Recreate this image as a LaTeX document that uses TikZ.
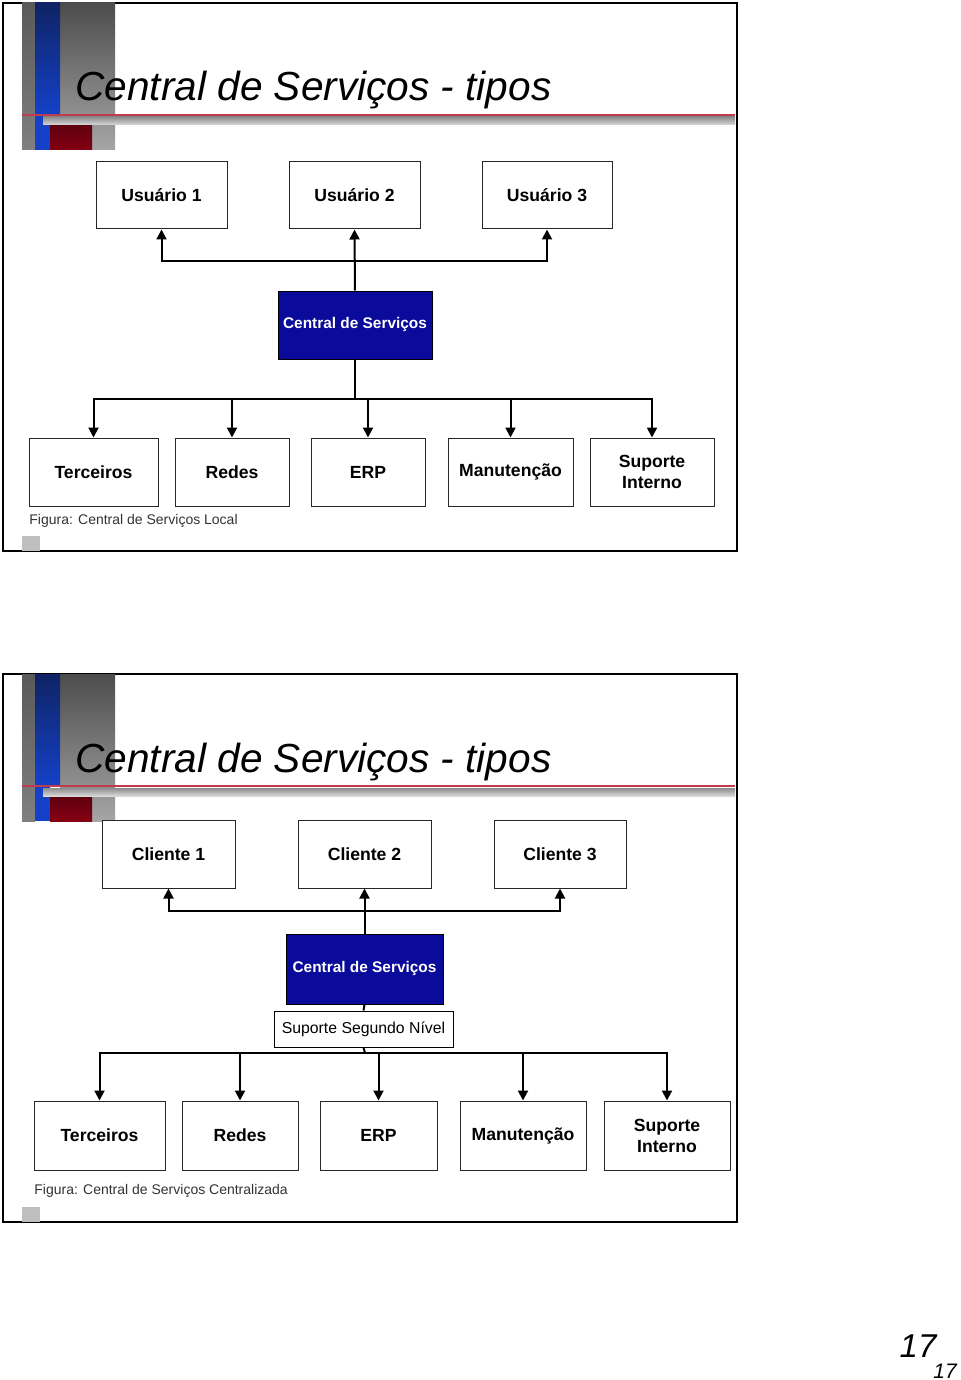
\documentclass[tikz,border=0pt]{standalone}
\usepackage{fontspec}
\setmainfont{Liberation Sans}
\usetikzlibrary{arrows.meta}
\definecolor{csblue}{RGB}{10,10,155}
\definecolor{lineRed}{RGB}{190,60,80}
\definecolor{darkRed}{RGB}{120,0,20}
\definecolor{stripBlue}{RGB}{20,65,200}
\definecolor{navyBlue}{RGB}{15,35,100}

\begin{document}
\begin{tikzpicture}[x=0.5pt,y=-0.5pt,
    box/.style={draw=black!85, line width=0.5pt, fill=white, inner sep=0pt, align=center,
      font=\fontsize{8.8}{10.5}\selectfont\bfseries},
    csbox/.style={draw=black, line width=0.5pt, fill=csblue, text=white, inner sep=0pt,
      font=\fontsize{7.7}{9}\selectfont\bfseries},
    ssnbox/.style={draw=black, line width=0.5pt, fill=white, inner sep=0pt,
      font=\fontsize{7.9}{9}\selectfont},
    conn/.style={line width=1pt, -{Triangle[width=5pt,length=5pt]}},
    link/.style={line width=1pt},
    titletext/.style={anchor=base west, inner sep=0pt, font=\fontsize{20.3}{24}\selectfont\itshape},
    captext/.style={anchor=west, inner sep=0pt, text=black!80, font=\fontsize{7}{8}\selectfont},
    pagenum/.style={inner sep=0pt, font=\itshape}]
    \useasboundingbox (0,0) rectangle (960,1380);

    % slide frames and header bars
    \foreach \dy in {0,671} {
      \begin{scope}[shift={(0,\dy)}]
        \draw[line width=1pt, fill=white] (3,3) rectangle (737,551);
        \shade[top color=black!70, bottom color=black!35] (60,3) rectangle (115,150);
        \shade[top color=black!65, bottom color=black!50] (22,3) rectangle (35,150);
        \shade[top color=navyBlue, bottom color=stripBlue] (35,3) rectangle (60,115);
        \fill[stripBlue] (35,115) rectangle (50,150);
        \shade[top color=black!45, bottom color=black!15] (43,117) rectangle (735,125);
        \draw[lineRed, line width=1pt] (22,115) -- (735,115);
        \shade[top color=darkRed!80!black, bottom color=darkRed!90!red] (50,126) rectangle (92,150);
        \fill[black!25] (22,536) rectangle (40,551);
      \end{scope}
    }

    % slide 1
    \node[titletext] (t1) at (75,101) {Central de Serviços - tipos};
    \node[box, minimum width=65.5pt, minimum height=33.5pt] (u1) at (161.5,195.5) {Usuário 1};
    \node[box, minimum width=65.5pt, minimum height=33.5pt] (u2) at (354.5,195.5) {Usuário 2};
    \node[box, minimum width=65pt, minimum height=33.5pt] (u3) at (547,195.5) {Usuário 3};
    \node[csbox, minimum width=77pt, minimum height=34pt] (cs1) at (355,325) {Central de Serviços};
    \node[box, minimum width=64.5pt, minimum height=34pt] (ter1) at (93.5,472) {Terceiros};
    \node[box, minimum width=57pt, minimum height=34pt] (red1) at (232,472) {Redes};
    \node[box, minimum width=57pt, minimum height=34pt] (erp1) at (368,472) {ERP};
    \node[box, minimum width=62.5pt, minimum height=34pt] (man1) at (510.5,472) {Manutenção};
    \node[box, minimum width=62pt, minimum height=34pt] (sup1) at (652,472) {Suporte\\Interno};
    \node[captext] (cap1) at (29,521) {Figura: Central de Serviços Local};
    \coordinate (up1) at (355,261);
    \coordinate (dn1) at (355,399);
    \draw[conn] (cs1.north) -- (u2.south);
    \draw[conn] (up1) -| (u1.south);
    \draw[conn] (up1) -| (u3.south);
    \draw[link] (cs1.south) -- (dn1);
    \draw[conn] (dn1) -| (ter1.north);
    \draw[conn] (dn1) -| (red1.north);
    \draw[conn] (dn1) -| (erp1.north);
    \draw[conn] (dn1) -| (man1.north);
    \draw[conn] (dn1) -| (sup1.north);

    % slide 2
    \node[titletext] (t2) at (75,772) {Central de Serviços - tipos};
    \node[box, minimum width=66.5pt, minimum height=34pt] (c1) at (168.5,854) {Cliente 1};
    \node[box, minimum width=66.5pt, minimum height=34pt] (c2) at (364.5,854) {Cliente 2};
    \node[box, minimum width=66pt, minimum height=34pt] (c3) at (560,854) {Cliente 3};
    \node[csbox, minimum width=78.5pt, minimum height=35pt] (cs2) at (364.5,969) {Central de Serviços};
    \node[ssnbox, minimum width=89.5pt, minimum height=18pt] (ssn) at (363.5,1029) {Suporte Segundo Nível};
    \node[box, minimum width=65.5pt, minimum height=34.5pt] (ter2) at (99.5,1135.5) {Terceiros};
    \node[box, minimum width=58pt, minimum height=34.5pt] (red2) at (240,1135.5) {Redes};
    \node[box, minimum width=58.5pt, minimum height=34.5pt] (erp2) at (378.5,1135.5) {ERP};
    \node[box, minimum width=63pt, minimum height=34.5pt] (man2) at (523,1135.5) {Manutenção};
    \node[box, minimum width=63pt, minimum height=34.5pt] (sup2) at (667,1135.5) {Suporte\\Interno};
    \node[captext] (cap2) at (34,1191) {Figura: Central de Serviços Centralizada};
    \coordinate (up2) at (365,911);
    \coordinate (dn2) at (365,1053);
    \draw[conn] (cs2.north) -- (c2.south);
    \draw[conn] (up2) -| (c1.south);
    \draw[conn] (up2) -| (c3.south);
    \draw[link] (cs2.south) -- (ssn.north);
    \draw[link] (ssn.south) -- (dn2);
    \draw[conn] (dn2) -| (ter2.north);
    \draw[conn] (dn2) -| (red2.north);
    \draw[conn] (dn2) -| (erp2.north);
    \draw[conn] (dn2) -| (man2.north);
    \draw[conn] (dn2) -| (sup2.north);

    % page numbers
    \node[pagenum, font=\fontsize{16.5}{18}\selectfont\itshape] (pg1) at (918,1346) {17};
    \node[pagenum, font=\fontsize{10.5}{12}\selectfont\itshape] (pg2) at (945,1371) {17};
\end{tikzpicture}
\end{document}
